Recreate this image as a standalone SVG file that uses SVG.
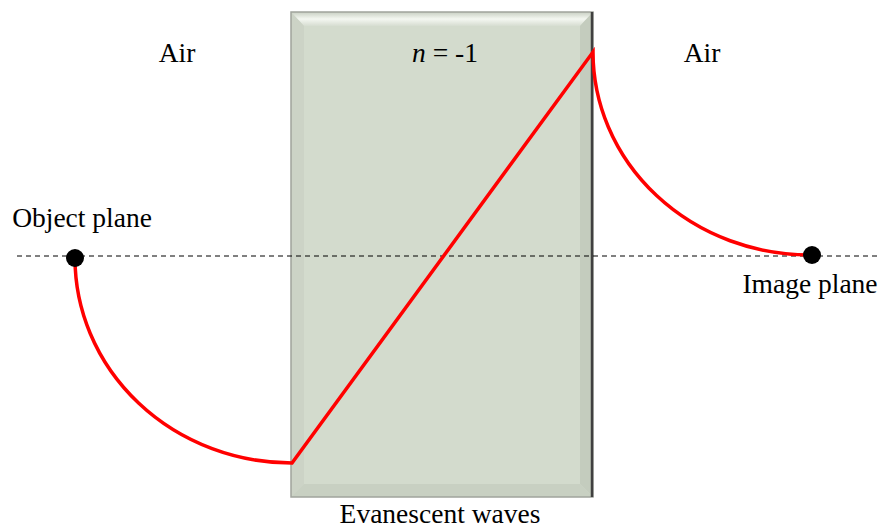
<svg xmlns="http://www.w3.org/2000/svg" width="882" height="531" viewBox="0 0 882 531">
<defs>
<style>
.t{font-family:"Liberation Serif","Times New Roman",serif;font-size:27.5px;fill:#000;text-anchor:middle}
.ray{fill:none;stroke:#ff0000;stroke-width:3.5}
</style>
<linearGradient id="top" x1="0" y1="0" x2="0" y2="1">
<stop offset="0" stop-color="#c9d0c3"/><stop offset="0.5" stop-color="#f4f7f1"/><stop offset="1" stop-color="#d6ddd1"/>
</linearGradient>
</defs>
<rect width="882" height="531" fill="#fff"/>
<g id="slab">
<rect x="291" y="12" width="302" height="485" fill="#d3dbcd"/>
<polygon points="291,12 593,12 580,26 304,26" fill="url(#top)"/>
<polygon points="593,12 593,497 580,484 580,26" fill="#c4ccbe"/>
<polygon points="291,12 304,26 304,484 291,497" fill="#ccd3c6"/>
<polygon points="291,497 593,497 580,484 304,484" fill="#c8d0c2"/>
<rect x="291" y="12" width="302" height="485" fill="none" stroke="#a0a49c" stroke-width="1.5"/>
<line x1="592" y1="12" x2="592" y2="497" stroke="#404040" stroke-width="2.5"/>
</g>
<g id="axis">
<line x1="17" y1="256" x2="881" y2="256" stroke="#000" stroke-width="1" stroke-dasharray="5,4"/>
</g>
<g id="connectors">
<path class="ray" d="M75,258 A217,205 0 0 0 292,463 L593,52 A217,203 0 0 0 810,255"/>
</g>
<g id="object">
<circle cx="75" cy="258" r="9" fill="#000"/>
<text class="t" x="82" y="227">Object plane</text>
</g>
<g id="image">
<circle cx="812" cy="255" r="9" fill="#000"/>
<text class="t" x="810" y="293">Image plane</text>
</g>
<g id="labels">
<text class="t" x="177" y="62">Air</text>
<text class="t" x="702" y="62">Air</text>
<text class="t" x="445" y="62"><tspan font-style="italic">n</tspan> = -1</text>
<text class="t" x="440" y="523">Evanescent waves</text>
</g>
</svg>
